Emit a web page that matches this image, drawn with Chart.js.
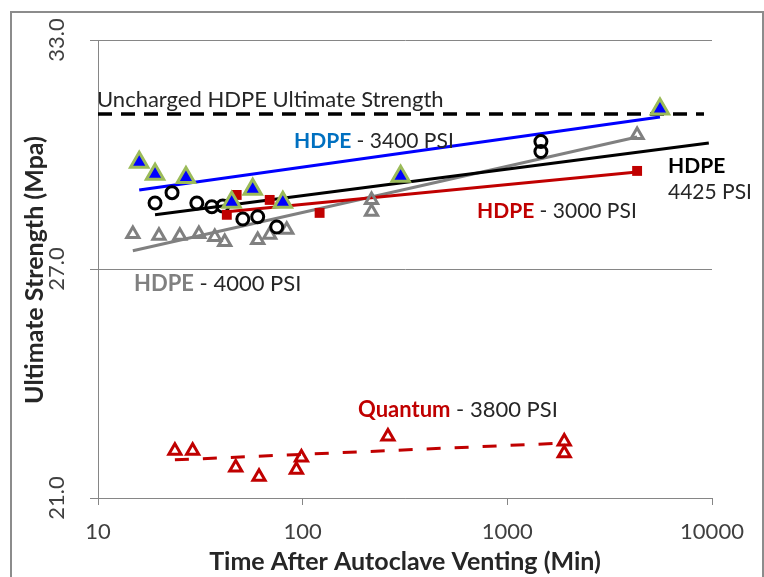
<!DOCTYPE html>
<html>
<head>
<meta charset="utf-8">
<script src="https://cdn.jsdelivr.net/npm/chart.js@4"></script>
<style>
    body { margin: 0; background: #fff; }
    canvas { display: block; }
</style>
</head>
<body>
<canvas id="chart" width="764" height="577"></canvas>
<script>

// decade ticks on the time axis
var xTicks = [10, 100, 1000, 10000]
var yTicks = [21, 27, 33]

// HDPE 3400 PSI (blue triangles)
var hdpe3400X = [15.9, 19.0, 26.9, 45.0, 57.0, 80.0, 301, 5570]
var hdpe3400Y = [29.80, 29.48, 29.40, 28.75, 29.09, 28.75, 29.43, 31.19]

// HDPE 4425 PSI (black circles)
var hdpe4425X = [19.0, 23.0, 30.4, 36.0, 40.7, 51.0, 60.3, 74.7, 1459, 1459]
var hdpe4425Y = [28.73, 29.00, 28.73, 28.63, 28.65, 28.31, 28.37, 28.10, 30.34, 30.08]

// HDPE 3000 PSI (red squares)
var hdpe3000X = [42.6, 47.6, 69.0, 121, 4306]
var hdpe3000Y = [28.42, 28.94, 28.81, 28.47, 29.57]

// HDPE 4000 PSI (grey open triangles)
var hdpe4000X = [14.8, 19.85, 25.1, 31.1, 37.2, 41.6, 60.3, 69.0, 83.6, 217, 217, 4306]
var hdpe4000Y = [27.92, 27.87, 27.87, 27.92, 27.84, 27.71, 27.76, 27.90, 28.03, 28.81, 28.50, 30.51]

// Quantum 3800 PSI (red open triangles)
var quantumX = [23.75, 29.0, 47.1, 61.2, 93.2, 98.6, 261, 1897, 1897]
var quantumY = [22.24, 22.24, 21.80, 21.56, 21.74, 22.06, 22.61, 22.48, 22.17]

// trend lines
var trend3400X = [15.9, 5570], trend3400Y = [29.07, 30.98]
var trend4425X = [19.0, 9650], trend4425Y = [28.42, 30.30]
var trend3000X = [42.6, 4306], trend3000Y = [28.50, 29.54]
var trend4000X = [14.8, 4306], trend4000Y = [27.48, 30.46]
var trendQuantumX = [23.75, 1897], trendQuantumY = [22.00, 22.44]
var unchargedX = [10, 9140], unchargedY = [31.06, 31.06]

var FONT = 'Lato, "Open Sans", sans-serif'
var TEXT = '#262626'

function pts(xs, ys) {
    return xs.map(function(x, i) { return { x: x, y: ys[i] } })
}

// text notes on the plot: [x, baseline, [text, color, bold]...]
var notes = [
    { x: 97, y: 107, size: 22, parts: [['Uncharged HDPE Ultimate Strength', TEXT, false]] },
    { x: 294, y: 148, size: 21, parts: [['HDPE', '#0070C0', true], [' - 3400 PSI', TEXT, false]] },
    { x: 477, y: 218, size: 21, parts: [['HDPE', '#C00000', true], [' - 3000 PSI', TEXT, false]] },
    { x: 668, y: 173, size: 21, parts: [['HDPE', '#000000', true]] },
    { x: 668, y: 199, size: 21, parts: [['4425 PSI', TEXT, false]] },
    { x: 134, y: 291, size: 22, parts: [['HDPE', '#808080', true], [' - 4000 PSI', TEXT, false]] },
    { x: 358, y: 417, size: 22, parts: [['Quantum', '#C00000', true], [' - 3800 PSI', TEXT, false]] }
]

var framePlugin = {
    id: 'frame',
    beforeDraw(chart) {
        var ctx = chart.ctx
        ctx.save()
        ctx.fillStyle = '#fff'
        ctx.fillRect(0, 0, chart.width, chart.height)
        ctx.strokeStyle = '#8c8c8c'
        ctx.lineWidth = 2
        ctx.strokeRect(11, 12, 752, 620)
        ctx.restore()
    }
}

var textPlugin = {
    id: 'texts',
    afterDraw(chart) {
        var ctx = chart.ctx
        var y = chart.scales.y
        ctx.save()
        // rotated y tick labels
        ctx.fillStyle = '#404040'
        ctx.font = '22px ' + FONT
        ctx.textAlign = 'center'
        ctx.textBaseline = 'middle'
        yTicks.forEach(function(v) {
            ctx.save()
            ctx.translate(57, y.getPixelForValue(v))
            ctx.rotate(-Math.PI / 2)
            ctx.fillText(v.toFixed(1), 0, 0)
            ctx.restore()
        })
        // y title
        ctx.save()
        ctx.fillStyle = TEXT
        ctx.font = 'bold 25px ' + FONT
        ctx.translate(35, 270)
        ctx.rotate(-Math.PI / 2)
        ctx.fillText('Ultimate Strength (Mpa)', 0, 0)
        ctx.restore()
        // notes
        ctx.textAlign = 'left'
        ctx.textBaseline = 'alphabetic'
        notes.forEach(function(n) {
            var cx = n.x
            n.parts.forEach(function(p) {
                ctx.font = (p[2] ? 'bold ' : '') + n.size + 'px ' + FONT
                ctx.fillStyle = p[1]
                ctx.fillText(p[0], cx, n.y)
                cx += ctx.measureText(p[0]).width
            })
        })
        ctx.restore()
    }
}

var el = document.getElementById('chart')
var chart = new Chart(el, {
    type: 'scatter',
    data: {
        datasets: [
            {
                label: 'HDPE 3400 PSI',
                data: pts(hdpe3400X, hdpe3400Y),
                pointStyle: 'triangle',
                pointRadius: 10,
                backgroundColor: '#0000FF',
                borderColor: '#9BBB59',
                borderWidth: 3
            },
            {
                label: 'HDPE 3000 PSI',
                data: pts(hdpe3000X, hdpe3000Y),
                pointStyle: 'rect',
                pointRadius: 7,
                backgroundColor: '#C00000',
                borderColor: '#C00000',
                borderWidth: 0
            },
            {
                label: 'HDPE 4425 PSI',
                data: pts(hdpe4425X, hdpe4425Y),
                pointStyle: 'circle',
                pointRadius: 6,
                backgroundColor: 'rgba(0,0,0,0)',
                borderColor: '#000000',
                borderWidth: 3
            },
            {
                label: 'HDPE 4000 PSI',
                data: pts(hdpe4000X, hdpe4000Y),
                pointStyle: 'triangle',
                pointRadius: 7,
                backgroundColor: 'rgba(0,0,0,0)',
                borderColor: '#808080',
                borderWidth: 3
            },
            {
                label: 'Quantum 3800 PSI',
                data: pts(quantumX, quantumY),
                pointStyle: 'triangle',
                pointRadius: 7,
                backgroundColor: 'rgba(0,0,0,0)',
                borderColor: '#C00000',
                borderWidth: 3
            },
            {
                label: 'trend 3400',
                data: pts(trend3400X, trend3400Y),
                showLine: true, pointRadius: 0,
                borderColor: '#0000FF', borderWidth: 3
            },
            {
                label: 'trend 4425',
                data: pts(trend4425X, trend4425Y),
                showLine: true, pointRadius: 0,
                borderColor: '#000000', borderWidth: 3
            },
            {
                label: 'trend 3000',
                data: pts(trend3000X, trend3000Y),
                showLine: true, pointRadius: 0,
                borderColor: '#C00000', borderWidth: 3
            },
            {
                label: 'trend 4000',
                data: pts(trend4000X, trend4000Y),
                showLine: true, pointRadius: 0,
                borderColor: '#808080', borderWidth: 3
            },
            {
                label: 'trend quantum',
                data: pts(trendQuantumX, trendQuantumY),
                showLine: true, pointRadius: 0,
                borderColor: '#C00000', borderWidth: 3,
                borderDash: [14, 14]
            },
            {
                label: 'uncharged',
                data: pts(unchargedX, unchargedY),
                showLine: true, pointRadius: 0,
                borderColor: '#000000', borderWidth: 3.5,
                borderDash: [14, 9]
            }
        ]
    },
    options: {
        responsive: false,
        animation: false,
        layout: { padding: { top: 40, right: 52, left: 0, bottom: 0 } },
        plugins: {
            legend: { display: false },
            tooltip: { enabled: false }
        },
        scales: {
            x: {
                type: 'logarithmic',
                min: 10,
                max: 10000,
                afterBuildTicks(scale) {
                    scale.ticks = xTicks.map(function(v) { return { value: v } })
                },
                afterFit(scale) { scale.height = 79 },
                ticks: {
                    autoSkip: false,
                    maxRotation: 0,
                    padding: 14,
                    color: '#404040',
                    font: { family: FONT, size: 22 },
                    callback(v) { return String(v) }
                },
                grid: {
                    drawOnChartArea: false,
                    drawTicks: true,
                    tickLength: 7,
                    color: '#868686'
                },
                border: { color: '#868686', width: 1 },
                title: {
                    display: true,
                    text: 'Time After Autoclave Venting (Min)',
                    color: TEXT,
                    font: { family: FONT, size: 25, weight: 'bold' },
                    padding: { top: 0, bottom: 0 }
                }
            },
            y: {
                min: 21,
                max: 33,
                afterBuildTicks(scale) {
                    scale.ticks = yTicks.map(function(v) { return { value: v } })
                },
                afterFit(scale) { scale.width = 98 },
                ticks: { display: false },
                grid: {
                    color: '#868686',
                    drawTicks: true,
                    tickLength: 8
                },
                border: { color: '#868686', width: 1 }
            }
        }
    },
    plugins: [framePlugin, textPlugin]
})
</script>
</body>
</html>
